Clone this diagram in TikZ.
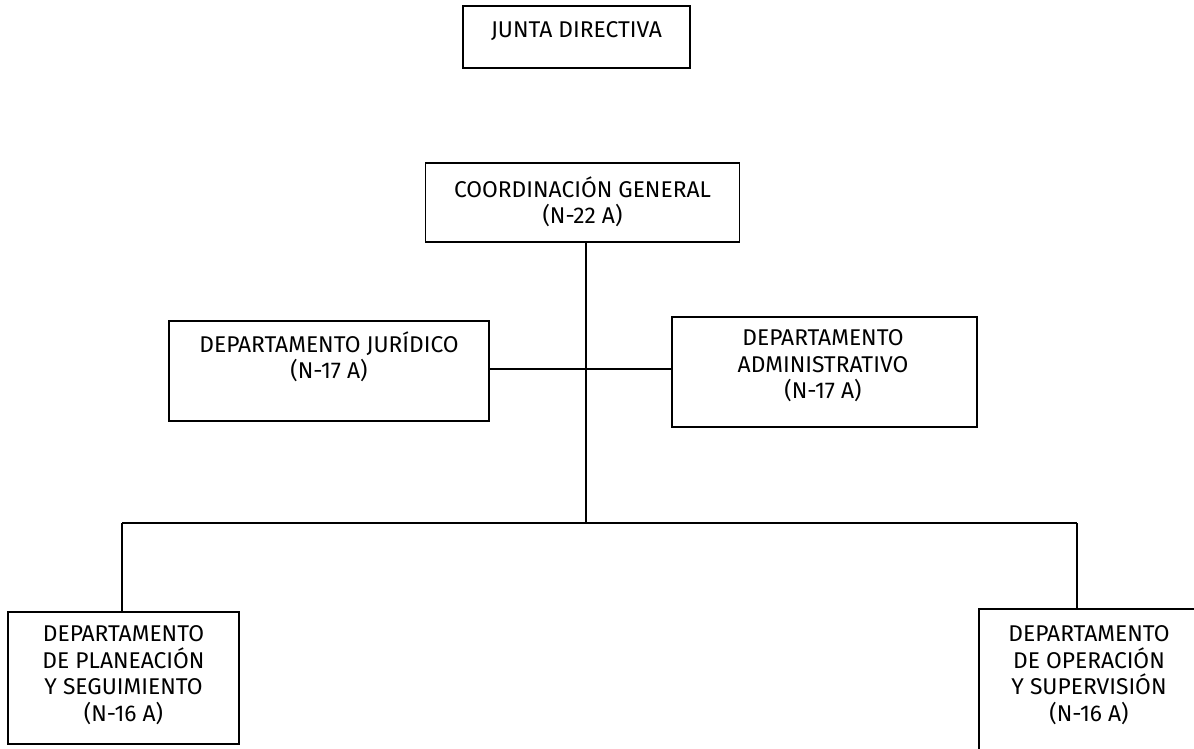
\documentclass[tikz,border=0pt]{standalone}
\usepackage{fontspec}
\setmainfont{Fira Sans}
\begin{document}
\begin{tikzpicture}[x=1pt,y=-1pt,
  box/.style={draw=black,line width=1.8pt,minimum width=#1,inner sep=0pt,fill=white},
  lbl/.style={align=center,font=\fontsize{22.8}{26.5}\selectfont,inner sep=0pt},
  conn/.style={draw=black,line width=1.8pt}]
\useasboundingbox (0,0) rectangle (1194,748);
\clip (0,0) rectangle (1194,748);
% boxes
\node[box=227pt,minimum height=62pt] (jd) at (576.5,37) {};
\node[lbl] (jdt) at (576.5,31) {JUNTA DIRECTIVA};
\node[box=314pt,minimum height=79pt] (cg) at (582.5,202.5) {};
\node[lbl] (cgt) at (582.5,202) {COORDINACIÓN GENERAL\\(N-22 A)};
\node[box=320pt,minimum height=100pt] (jur) at (329,371) {};
\node[lbl] (jurt) at (329,357) {DEPARTAMENTO JURÍDICO\\(N-17 A)};
\node[box=305pt,minimum height=110pt] (adm) at (824.5,372) {};
\node[lbl] (admt) at (823,366) {DEPARTAMENTO\\ADMINISTRATIVO\\(N-17 A)};
\node[box=231pt,minimum height=132pt] (pl) at (123.5,678) {};
\node[lbl] (plt) at (123.5,675) {DEPARTAMENTO\\DE PLANEACIÓN\\Y SEGUIMIENTO\\(N-16 A)};
\node[box=230pt,minimum height=160pt] (op) at (1094,689) {};
\node[lbl] (opt) at (1089,675) {DEPARTAMENTO\\DE OPERACIÓN\\Y SUPERVISIÓN\\(N-16 A)};
% connectors
\coordinate (h) at (586,369);
\coordinate (j) at (586,523);
\coordinate (bl) at (122,523);
\coordinate (br) at (1077,523);
\draw[conn] (cg.south -| j) -- (j);
\draw[conn] (jur.east |- h) -- (adm.west |- h);
\draw[conn] (bl) -- (br);
\draw[conn] (bl) -- (pl.north -| bl);
\draw[conn] (br) -- (op.north -| br);
\end{tikzpicture}
\end{document}
